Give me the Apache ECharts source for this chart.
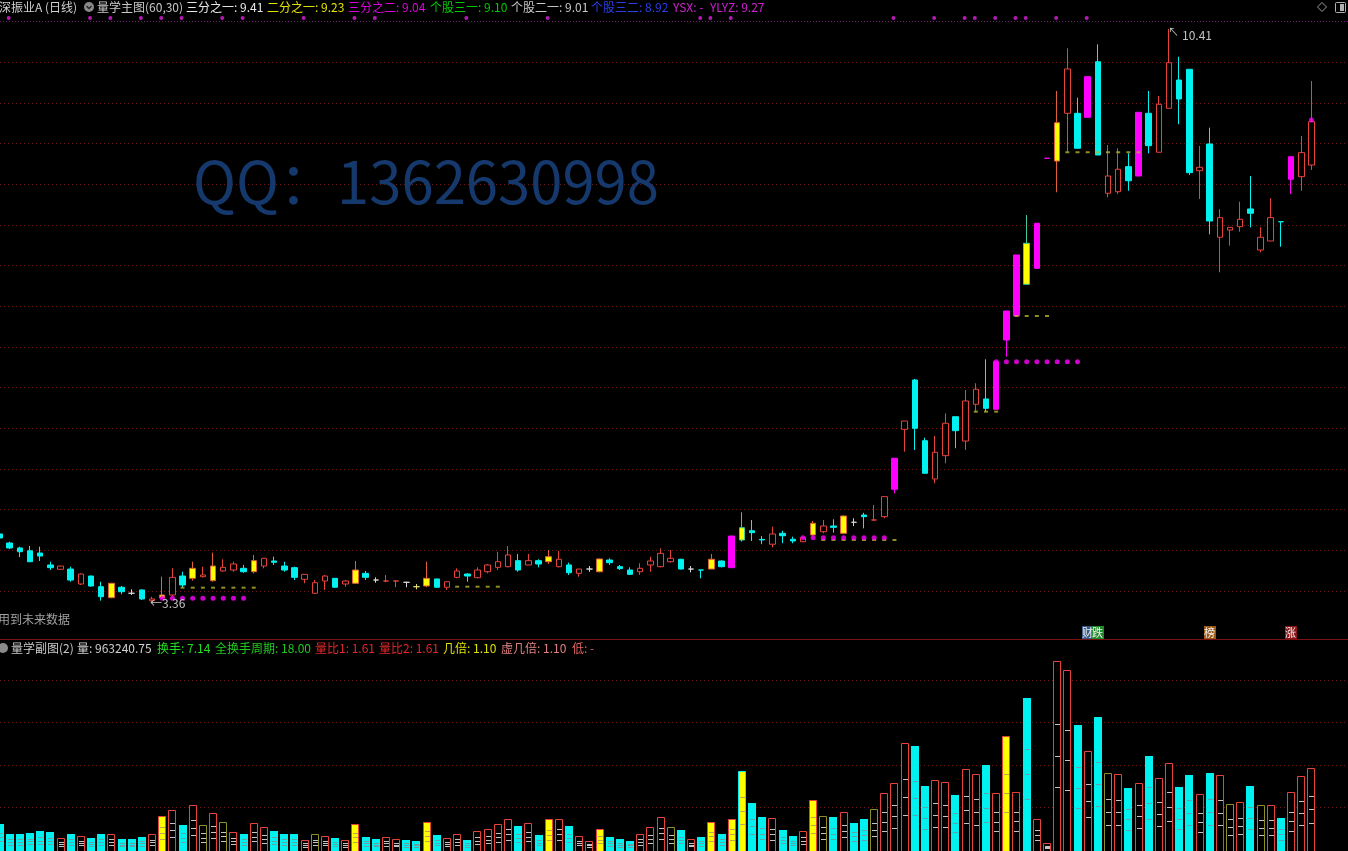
<!DOCTYPE html>
<html><head><meta charset="utf-8">
<script src="https://cdn.jsdelivr.net/npm/echarts@6/dist/echarts.min.js"></script>
<style>html,body{margin:0;padding:0;background:#000;overflow:hidden}#c{width:1348px;height:851px}</style>
</head><body><div id="c"></div>
<script>
// ---------------- DATA ----------------
// daily candles: [open, close, low, high]
const candles = [
[4.201,4.152,4.130,4.220],[4.090,4.029,4.016,4.106],[4.029,3.983,3.918,4.045],[3.995,3.860,3.856,4.053],[3.967,3.930,3.869,4.045],
[3.820,3.787,3.758,3.860],[3.767,3.807,3.765,3.810],[3.770,3.635,3.614,3.799],[3.586,3.709,3.574,3.718],[3.684,3.561,3.555,3.690],
[3.553,3.430,3.381,3.614],[3.418,3.595,3.410,3.600],[3.546,3.491,3.460,3.562],[3.472,3.472,3.451,3.521],[3.513,3.402,3.390,3.521],
[3.381,3.402,3.360,3.430],[3.418,3.451,3.414,3.676],[3.451,3.668,3.430,3.779],[3.684,3.574,3.546,3.737],[3.656,3.779,3.627,3.860],
[3.676,3.697,3.668,3.799],[3.627,3.807,3.614,3.971],[3.746,3.791,3.737,3.890],[3.758,3.832,3.737,3.860],[3.779,3.737,3.725,3.820],
[3.737,3.873,3.717,3.943],[3.807,3.902,3.779,3.902],[3.869,3.853,3.820,3.922],[3.807,3.758,3.737,3.860],[3.787,3.668,3.635,3.799],
[3.644,3.705,3.595,3.705],[3.472,3.602,3.463,3.635],[3.623,3.684,3.513,3.697],[3.656,3.546,3.540,3.660],[3.586,3.623,3.553,3.635],
[3.595,3.758,3.586,3.869],[3.717,3.668,3.635,3.746],[3.635,3.635,3.602,3.668],[3.623,3.623,3.607,3.697],[3.623,3.623,3.546,3.623],
[3.607,3.607,3.546,3.614],[3.553,3.553,3.521,3.586],[3.562,3.656,3.546,3.860],[3.648,3.546,3.540,3.650],[3.546,3.614,3.513,3.614],
[3.668,3.746,3.656,3.779],[3.709,3.684,3.614,3.718],[3.664,3.758,3.656,3.791],[3.737,3.820,3.717,3.832],[3.791,3.860,3.758,3.983],
[3.799,3.943,3.791,4.053],[3.873,3.758,3.737,3.955],[3.820,3.873,3.820,3.955],[3.873,3.832,3.791,3.890],[3.860,3.922,3.832,4.004],
[3.799,3.890,3.791,3.992],[3.820,3.725,3.697,3.848],[3.717,3.770,3.676,3.770],[3.770,3.770,3.737,3.807],[3.737,3.894,3.730,3.900],
[3.881,3.848,3.820,3.902],[3.799,3.775,3.758,3.820],[3.758,3.705,3.697,3.791],[3.737,3.779,3.697,3.841],[3.820,3.869,3.737,3.922],
[3.799,3.963,3.791,4.025],[3.860,3.902,3.848,4.004],[3.890,3.770,3.765,3.895],[3.770,3.770,3.729,3.807],[3.758,3.758,3.656,3.758],
[3.770,3.890,3.770,3.955],[3.869,3.799,3.790,3.875],[3.787,4.176,3.787,4.180],[4.127,4.278,4.106,4.467],[4.241,4.217,4.115,4.373],
[4.135,4.127,4.075,4.176],[4.075,4.201,4.037,4.291],[4.209,4.180,4.087,4.241],[4.136,4.115,4.087,4.168],[4.106,4.156,4.100,4.160],
[4.189,4.333,4.168,4.361],[4.229,4.299,4.209,4.373],[4.299,4.283,4.217,4.382],[4.209,4.422,4.200,4.430],[4.345,4.345,4.299,4.394],
[4.434,4.414,4.270,4.462],[4.373,4.373,4.365,4.558],[4.414,4.660,4.394,4.660],[4.751,5.132,4.701,5.132],[5.488,5.590,5.213,5.590],
[6.094,5.500,5.234,6.107],[5.348,4.947,4.947,5.385],[4.877,5.205,4.824,5.406],[5.164,5.562,5.070,5.685],[5.643,5.471,5.255,5.643],
[5.344,5.836,5.234,5.971],[5.796,5.980,5.705,6.054],[5.861,5.746,5.705,6.349],[5.734,6.319,5.730,6.320],[6.586,6.942,6.381,6.942],
[6.881,7.631,6.880,7.631],[7.271,7.775,7.262,8.123],[7.467,8.021,7.467,8.021],[8.820,8.820,8.820,8.820],[8.786,9.257,8.402,9.647],
[9.373,9.918,8.901,10.172],[9.373,8.943,8.943,9.565],[9.324,9.823,9.324,9.823],[10.007,8.860,8.860,10.221],[8.390,8.602,8.340,8.983],
[8.409,8.685,8.381,8.943],[8.717,8.544,8.421,8.881],[8.602,9.385,8.602,9.385],[9.373,8.975,8.881,9.647],[8.894,9.484,8.894,9.586],
[9.434,9.995,9.434,10.410],[9.782,9.549,9.238,10.069],[9.914,8.643,8.615,9.914],[8.667,8.709,8.320,8.971],[8.996,8.049,7.885,9.196],
[7.849,8.090,7.418,8.193],[7.938,7.971,7.745,7.971],[7.979,8.070,7.917,8.286],[8.197,8.144,7.971,8.602],[7.692,7.849,7.664,7.971],
[7.803,8.090,7.803,8.328],[8.040,8.040,7.733,8.040],[8.562,8.839,8.381,8.839],[8.594,8.889,8.421,9.094],[8.737,9.270,8.676,9.770]
];
// candle class: u=up(hollow) d=down m=limit-up g=gold h=gold(green wick) w=doji y=yellow doji
const candleKind = [
 'd','d','d','d','d','d','u','d','u','d',
 'd','g','d','w','d','u','g','u','d','g',
 'u','g','u','u','d','g','u','d','d','d',
 'u','u','u','d','u','g','d','w','u','u',
 'w','y','g','d','u','u','d','u','u','u',
 'u','d','u','d','g','u','d','u','w','g',
 'd','d','d','u','u','u','u','d','w','d',
 'g','d','m','h','d','d','u','d','d','u',
 'g','u','d','g','w','d','u','u','m','u',
 'd','d','u','u','d','u','u','d','m','m',
 'm','h','m','m','g','u','d','m','d','u',
 'u','d','m','d','u','u','d','d','u','d',
 'u','u','u','d','u','u','d','m','u','u'
];
// volume per day
const volumes = [
308000,191000,191000,206000,226000,214000,147000,191000,167000,147000,
191000,191000,132000,132000,159000,187000,406000,473000,296000,532000,
296000,434000,328000,211000,191000,316000,269000,226000,191000,191000,
120000,187000,167000,147000,120000,305000,159000,132000,159000,132000,
120000,112000,335000,179000,138000,191000,120000,226000,246000,305000,
371000,285000,316000,179000,364000,371000,285000,167000,112000,246000,
159000,128000,112000,191000,269000,394000,269000,238000,132000,159000,
328000,191000,371000,932000,559000,387000,375000,238000,167000,226000,
591000,406000,387000,453000,324000,364000,485000,669000,794000,1258000,
1226000,759000,826000,806000,649000,955000,896000,1002000,669000,1347000,
681000,1794000,364000,81000,2226000,2120000,1473000,1167000,1564000,905000,
893000,728000,794000,1112000,853000,1022000,740000,885000,658000,905000,
885000,544000,564000,759000,532000,532000,375000,681000,873000,963240.75
];
// volume bar class: u=up d=down g=gold o=flat c=gold(cyan edge)
const volumeKind = [
 'd','d','d','d','d','d','u','d','u','d',
 'd','u','d','d','d','u','g','u','d','u',
 'o','u','o','u','d','u','u','d','d','d',
 'u','o','u','d','u','g','d','d','u','u',
 'd','d','g','d','u','u','d','u','u','u',
 'u','d','u','d','g','u','d','u','u','g',
 'd','d','d','u','u','u','o','d','u','d',
 'g','d','g','c','d','d','u','d','d','u',
 'g','o','d','u','d','d','o','u','u','u',
 'd','d','u','u','d','u','u','d','u','g',
 'u','d','u','u','u','u','d','u','d','o',
 'u','d','u','d','u','u','d','d','u','d',
 'u','o','u','d','o','u','d','u','u','u'
];
const priceGridLevels = [3.5,4.0,4.5,5.0,5.5,6.0,6.5,7.0,7.5,8.0,8.5,9.0,9.5,10.0];
const volumeGridLevels = [500000,1000000,1500000,2000000];
// support dash rows: [fromDay, toDay, price]
const dashRows = [[18,25,3.541],[45,49,3.553],[81,88,4.127],[96,98,5.705],[100,103,6.881],[105,112,8.894]];
// magenta dot rows: [fromDay, toDay, price]
const dotRows = [[16,24,3.410],[79,87,4.155],[98,106,6.319]];
const extraDots = [[129,9.291]];
// top signal days
const topSignals = [1,9,11,14,16,18,22,24,30,35,37,46,54,69,70,72,88,92,95,96,98,100,101,104,107];
const lowMark = [15, 3.36];
const highMark = [115, 10.41];
const eventLabels = [[107,'财'],[108,'跌'],[119,'榜'],[127,'涨']];

// ---------------- CHART ----------------
const RED='#e6433b', CYAN='#00f2f0', YEL='#ffff00', MAG='#ff00ff', WHITE='#d6d6d6', OLIVE='#8e8e26';
const cStyle = {u:['#000',RED], d:[CYAN,CYAN], g:[YEL,'#e0603a'], h:[YEL,'#3cc8a0'], m:[MAG,MAG], w:[WHITE,WHITE], y:['#e0e070','#e0e070']};

const candleData = candles.map((c, i) => {
  const s = cStyle[candleKind[i]] || cStyle.u;
  return {value: [i].concat(c), itemStyle: {color: s[0], color0: s[0], borderColor: s[1], borderColor0: s[1], borderColorDoji: s[1], borderWidth: 1}};
});
const dashData = [];
dashRows.forEach(r => { for (let i = r[0]; i <= r[1]; i++) dashData.push([i, r[2]]); });
const dotData = [];
dotRows.forEach(r => { for (let i = r[0]; i <= r[1]; i++) dotData.push([i, r[2]]); });
extraDots.forEach(d => dotData.push(d));

// x window (day units) and y windows
const xMin = 0.049, xMax = 132.596;
const mainMin = 2.9099, mainMax = 10.5569;
const topSignalLevel = 10.545, topBorderLevel = 10.508;
const volMax = 2472941;

const GRIDLINE = {color: '#701616', type: [1, 3], width: 1};
const hiddenX = (gi) => ({type: 'value', gridIndex: gi, min: xMin, max: xMax, show: false, splitLine: {show: false}});

const option = {
  backgroundColor: '#000',
  animation: false,
  grid: [
    {left: 0, right: 0, top: 17, height: 622},
    {left: 0, right: 0, top: 640, height: 210.2}
  ],
  xAxis: [hiddenX(0), hiddenX(1)],
  yAxis: [
    {type: 'value', gridIndex: 0, min: mainMin, max: mainMax, show: false, splitLine: {show: false}},
    {type: 'value', gridIndex: 1, min: 0, max: volMax, show: false, splitLine: {show: false}}
  ],
  series: [
    {
      type: 'line', xAxisIndex: 0, yAxisIndex: 0, data: candles.map((c, i) => [i, c[1]]), silent: true,
      showSymbol: false, lineStyle: {opacity: 0}, z: 0,
      markLine: {silent: true, symbol: 'none', label: {show: false}, animation: false, z: 0,
        data: priceGridLevels.map(v => ({yAxis: v, lineStyle: GRIDLINE}))
          .concat([{yAxis: topBorderLevel, lineStyle: {color: '#6a1e6a', type: [1, 2], width: 1}}])}
    },
    {
      type: 'candlestick', xAxisIndex: 0, yAxisIndex: 0, data: candleData, barWidth: 6, z: 3
    },
    {
      type: 'scatter', xAxisIndex: 0, yAxisIndex: 0, data: dashData, symbol: 'rect', symbolSize: [4, 2],
      itemStyle: {color: '#b3b32a'}, z: 4, silent: true
    },
    {
      type: 'scatter', xAxisIndex: 0, yAxisIndex: 0, data: dotData, symbol: 'circle', symbolSize: 5,
      itemStyle: {color: MAG}, z: 5, silent: true
    },
    {
      type: 'scatter', xAxisIndex: 0, yAxisIndex: 0, data: topSignals.map(i => [i, topSignalLevel]),
      symbol: 'circle', symbolSize: 4, itemStyle: {color: '#e020e0'}, z: 5, silent: true, symbolOffset: [-1, 0]
    },
    {
      type: 'line', xAxisIndex: 1, yAxisIndex: 1, data: volumes.map((v, i) => [i, v]), silent: true,
      showSymbol: false, lineStyle: {opacity: 0}, z: 0,
      markLine: {silent: true, symbol: 'none', label: {show: false}, animation: false, z: 0,
        data: volumeGridLevels.map(v => ({yAxis: v, lineStyle: GRIDLINE}))}
    },
    {
      type: 'custom', xAxisIndex: 1, yAxisIndex: 1, z: 3, silent: true,
      data: volumes.map((v, i) => [i, v]),
      renderItem: function (params, api) {
        const i = api.value(0), v = api.value(1);
        const k = volumeKind[params.dataIndex] || 'u';
        const top = api.coord([i, v]), base = api.coord([i, 0]);
        const cx = Math.round(top[0]);
        const ty = Math.round(top[1]), by = base[1] + 2;
        const h = by - ty;
        const kids = [];
        const tickCol = {u: '#c4c4c4', o: '#c4c4c4', d: 'rgba(110,150,150,0.85)', g: '#b8a850', c: '#b8a850'}[k];
        if (k === 'd') {
          kids.push({type: 'rect', shape: {x: cx - 4, y: ty, width: 8, height: h}, style: {fill: CYAN}});
        } else if (k === 'g' || k === 'c') {
          kids.push({type: 'rect', shape: {x: cx - 3.5, y: ty + 0.5, width: 7, height: h}, style: {fill: YEL, stroke: k === 'g' ? RED : CYAN, lineWidth: 1}});
        } else {
          kids.push({type: 'rect', shape: {x: cx - 3.5, y: ty + 0.5, width: 7, height: h}, style: {fill: '#000', stroke: k === 'o' ? OLIVE : RED, lineWidth: 1}});
        }
        const hh = base[1] - top[1];
        if (hh > 5) {
          [1/3, 1/2, 2/3].forEach(f => {
            const y = Math.round(base[1] - hh * f) + 0.5;
            kids.push({type: 'line', shape: {x1: cx - 2, y1: y, x2: cx + 3, y2: y}, style: {stroke: tickCol, lineWidth: 1}});
          });
        }
        return {type: 'group', children: kids};
      }
    }
  ]
};

const chart = echarts.init(document.getElementById('c'), null, {width: 1348, height: 851});
chart.setOption(option);

// ---------------- TEXT / OVERLAYS ----------------
const FONT = '"Noto Sans CJK SC", "Microsoft YaHei", sans-serif';
function txt(t, x, y, color, size, extra) {
  return Object.assign({type: 'text', x: x, y: y, silent: true, z: 50,
    style: {text: t, fill: color, font: (size || 12) + 'px ' + FONT, textVerticalAlign: 'middle', textAlign: 'left'}}, extra || {});
}
const g = [];
g.push(txt('深振业A (日线)', -1, 7, '#d0d0d0'));
g.push({type: 'circle', shape: {cx: 89, cy: 7, r: 5}, style: {fill: '#8a8a8a'}, silent: true, z: 50});
g.push({type: 'polyline', shape: {points: [[86.5, 6], [89, 8.5], [91.5, 6]]}, style: {stroke: '#222', lineWidth: 1.3, fill: null}, silent: true, z: 51});
g.push(txt('量学主图(60,30)', 97, 7, '#c8c8c8'));
g.push(txt('三分之一: 9.41', 186, 7, '#e8e8e8'));
g.push(txt('二分之一: 9.23', 267, 7, '#e4e400'));
g.push(txt('三分之二: 9.04', 348, 7, '#dc00dc'));
g.push(txt('个股三一: 9.10', 430, 7, '#00cc00'));
g.push(txt('个股二一: 9.01', 511, 7, '#c8c8c8'));
g.push(txt('个股三二: 8.92', 591, 7, '#2a3ee6'));
g.push(txt('YSX: -', 673, 7, '#d020d0'));
g.push(txt('YLYZ: 9.27', 710, 7, '#d020d0'));
g.push({type: 'polygon', shape: {points: [[1322, 2.5], [1326.5, 7], [1322, 11.5], [1317.5, 7]]}, style: {fill: null, stroke: '#9a9a9a', lineWidth: 1}, silent: true, z: 50});
g.push({type: 'rect', shape: {x: 1335.5, y: 2.5, width: 10, height: 10, r: 1}, style: {fill: null, stroke: '#b0b0b0', lineWidth: 1}, silent: true, z: 50});
g.push({type: 'rect', shape: {x: 1340, y: 4, width: 4, height: 7}, style: {fill: '#b0b0b0'}, silent: true, z: 50});
g.push(txt('QQ：1362630998', 193, 182, '#15396c', 58, {z: 1}));
g.push(txt('用到未来数据', -2, 619, '#a0a0a0'));
g.push({type: 'line', shape: {x1: 0, y1: 639.5, x2: 1348, y2: 639.5}, style: {stroke: '#7a1212', lineWidth: 1}, silent: true, z: 40});
g.push({type: 'circle', shape: {cx: 3, cy: 648, r: 5}, style: {fill: '#8a8a8a'}, silent: true, z: 50});
g.push(txt('量学副图(2)', 11, 648, '#c8c8c8'));
g.push(txt('量: 963240.75', 77, 648, '#d0d0d0'));
g.push(txt('换手: 7.14', 157, 648, '#22dd22'));
g.push(txt('全换手周期: 18.00', 215, 648, '#22c822'));
g.push(txt('量比1: 1.61', 315, 648, '#e02828'));
g.push(txt('量比2: 1.61', 379, 648, '#e02828'));
g.push(txt('几倍: 1.10', 443, 648, '#e0e000'));
g.push(txt('虚几倍: 1.10', 501, 648, '#e08080'));
g.push(txt('低: -', 572, 648, '#e06060'));
const pLow = chart.convertToPixel({gridIndex: 0}, lowMark);
g.push(txt('←' + lowMark[1].toFixed(2), pLow[0] - 2, pLow[1] + 1, '#c4c4c4'));
const pHigh = chart.convertToPixel({gridIndex: 0}, highMark);
g.push(txt('↖', pHigh[0] - 1, pHigh[1] + 3, '#c4c4c4', 11));
g.push(txt(highMark[1].toFixed(2), pHigh[0] + 13, pHigh[1] + 6, '#c4c4c4'));
const evStyle = {'财': '#35598a', '跌': '#1f8a2a', '榜': '#9a5812', '涨': '#8c1616'};
eventLabels.forEach(e => {
  const p = chart.convertToPixel({gridIndex: 0}, [e[0], mainMin]);
  const x = Math.round(p[0]) - 6;
  g.push({type: 'rect', shape: {x: x, y: 626, width: 12, height: 13}, style: {fill: evStyle[e[1]]}, silent: true, z: 45});
  g.push(txt(e[1], x, 632.5, '#f0f0f0', 11, {z: 46}));
});
chart.setOption({graphic: g});
</script>
</body></html>
